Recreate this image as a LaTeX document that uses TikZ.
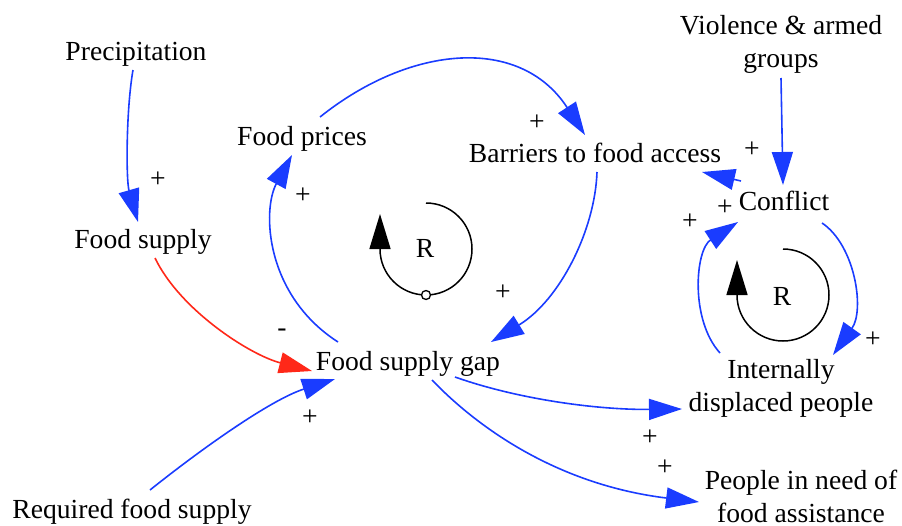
\documentclass[tikz,border=0pt]{standalone}
\usepackage{fontspec}
\setmainfont{Liberation Serif}
\usetikzlibrary{arrows.meta}
\definecolor{cblue}{RGB}{26,60,255}
\definecolor{cred}{RGB}{255,40,25}
\begin{document}
\begin{tikzpicture}[x=1pt,y=-1pt,
  var/.style={font=\fontsize{27.6}{33}\selectfont, align=center, inner sep=0pt, anchor=base},
  pol/.style={font=\fontsize{27.6}{33}\selectfont, inner sep=0pt},
  link/.style={cblue, line width=1.6pt, -{Triangle[length=33pt,width=21pt]}},
  neglink/.style={link, cred},
  loopline/.style={black, line width=1.5pt, -{Triangle[length=35pt,width=21pt]}}
]
\useasboundingbox (0,0) rectangle (902,525);

% variables (base = baseline of the last line)
\node[var] (prec)   at (136,60)  {Precipitation};
\node[var] (fsup)   at (143,248) {Food supply};
\node[var] (fprice) at (302,145) {Food prices};
\node[var] (barr)   at (595,162) {Barriers to food access};
\node[var] (viol)   at (781,67)  {Violence \& armed\\groups};
\node[var] (confl)  at (784,210) {Conflict};
\node[var] (gap)    at (408,370) {Food supply gap};
\node[var] (idp)    at (781,411) {Internally\\displaced people};
\node[var] (pin)    at (801,522) {People in need of\\food assistance};
\node[var] (req)    at (132,518) {Required food supply};

% links
\draw[link] ([shift={(-3,10)}]prec.base) .. controls (126,110) and (126,180) .. ([shift={(-5,-26)}]fsup.base);
\draw[neglink] ([shift={(12,10)}]fsup.base) .. controls (180,310) and (250,355) .. ([shift={(-96,1)}]gap.base);
\draw[link] ([shift={(18,-28)}]req.base) .. controls (200,450) and (270,400) .. ([shift={(-73,9)}]gap.base);
\draw[link] ([shift={(-70,-28)}]gap.base) .. controls (265,295) and (262,210) .. ([shift={(-10,10)}]fprice.base);
\draw[link] ([shift={(18,-28)}]fprice.base) .. controls (410,45) and (520,35) .. ([shift={(-10,-27)}]barr.base);
\draw[link] ([shift={(2,10)}]barr.base) .. controls (595,230) and (560,300) .. ([shift={(83,-28)}]gap.base);
\draw[link] ([shift={(-43,-29)}]confl.base) -- ([shift={(107,10)}]barr.base);
\draw[link] ([shift={(0,11)}]viol.base) -- ([shift={(-1,-25)}]confl.base);
\draw[link] ([shift={(38,13)}]confl.base) .. controls (855,245) and (865,310) .. ([shift={(52,-56)}]idp.base);
\draw[link] ([shift={(-61,-58)}]idp.base) .. controls (690,320) and (695,250) .. ([shift={(-46,12)}]confl.base);
\draw[link] ([shift={(47,7)}]gap.base) .. controls (520,400) and (600,410) .. ([shift={(-99,-2)}]idp.base);
\draw[link] ([shift={(24,10)}]gap.base) .. controls (480,430) and (560,485) .. ([shift={(-102,-20)}]pin.base);

% polarities
\node[pol] (p1)  at (158,180) {+};
\node[pol] (p2)  at (303,196) {+};
\node[pol] (p3)  at (537,123) {+};
\node[pol] (p4)  at (503,293) {+};
\node[pol] (p5)  at (752,150) {+};
\node[pol] (p6)  at (725,208) {+};
\node[pol] (p7)  at (690,222) {+};
\node[pol] (p8)  at (873,340) {+};
\node[pol] (p9)  at (310,418) {+};
\node[pol] (p10) at (650,438) {+};
\node[pol] (p11) at (665,468) {+};
\node[pol] (m1)  at (282,333) {-};

% loop markers
\draw[loopline] (426,203) arc[start angle=-90, end angle=180, radius=46] -- ++(0,-35);
\draw[black, line width=1.3pt, fill=white] (426,295) circle[radius=4.5];
\node[pol] (r1) at (425,248) {R};
\draw[loopline] (783,249) arc[start angle=-90, end angle=180, radius=46] -- ++(0,-35);
\node[pol] (r2) at (782,296) {R};
\end{tikzpicture}
\end{document}
